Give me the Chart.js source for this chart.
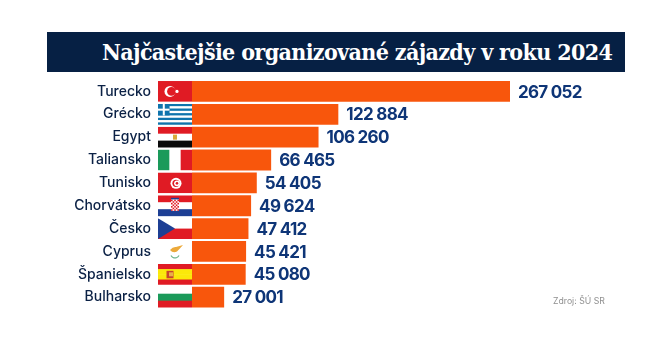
<!DOCTYPE html>
<html lang="sk">
<head>
<meta charset="utf-8">
<title>Najčastejšie organizované zájazdy v roku 2024</title>
<script src="https://cdn.jsdelivr.net/npm/chart.js@4"></script>
<style>
  html, body { margin: 0; padding: 0; background: #fff; }
  #wrap { position: relative; width: 662px; height: 358px; overflow: hidden; }
  canvas { position: absolute; left: 0; top: 0; }
  #title {
    position: absolute; left: 47px; top: 32px; width: 578px; height: 40px;
    background: #062044; color: #fff; box-sizing: border-box;
    font: bold 23px "DejaVu Serif Condensed", "DejaVu Serif", serif; line-height: 39px;
    letter-spacing: -0.64px;
    padding-left: 55px; white-space: nowrap;
  }
  #source {
    position: absolute; left: 553px; top: 296px;
    font: 8.7px Inter, sans-serif; color: #8f8f8f; white-space: nowrap;
  }
</style>
</head>
<body>
<div id="wrap">
  <canvas id="chart" width="662" height="358"></canvas>
  <div id="title">Najčastejšie organizované zájazdy v roku 2024</div>
  <div id="source">Zdroj: ŠÚ SR</div>
</div>
<script>
const categories = ['Turecko', 'Grécko', 'Egypt', 'Taliansko', 'Tunisko', 'Chorvátsko', 'Česko', 'Cyprus', 'Španielsko', 'Bulharsko'];
const trips = [267052, 122884, 106260, 66465, 54405, 49624, 47412, 45421, 45080, 27001];
const flagCodes = ['tr', 'gr', 'eg', 'it', 'tn', 'hr', 'cz', 'cy', 'es', 'bg'];

const RED = '#e01b24';
const FLAG_W = 34;

function hStripes(ctx, x, y, w, h, colors) {
  const sh = h / colors.length;
  colors.forEach((c, i) => {
    ctx.fillStyle = c;
    ctx.fillRect(x, y + i * sh, w, sh + 0.5);
  });
}

function disc(ctx, cx, cy, r, color) {
  ctx.fillStyle = color;
  ctx.beginPath();
  ctx.arc(cx, cy, r, 0, Math.PI * 2);
  ctx.fill();
}

const flags = {
  tr(ctx, x, y, w, h) {
    ctx.fillStyle = RED;
    ctx.fillRect(x, y, w, h);
    const cy = y + h / 2;
    disc(ctx, x + 12, cy, 5.5, '#fff');
    disc(ctx, x + 13.5, cy, 4.4, RED);
    disc(ctx, x + 19, cy, 1.6, '#fff');
  },
  gr(ctx, x, y, w, h) {
    const blue = '#0f74ad';
    const colors = [];
    for (let i = 0; i < 9; i++) colors.push(i % 2 ? '#fff' : blue);
    hStripes(ctx, x, y, w, h, colors);
    const c = h * 5 / 9;
    ctx.fillStyle = blue;
    ctx.fillRect(x, y, c, c);
    ctx.fillStyle = '#fff';
    ctx.fillRect(x + c / 2 - 1, y, 2, c);
    ctx.fillRect(x, y + c / 2 - 1, c, 2);
  },
  eg(ctx, x, y, w, h) {
    hStripes(ctx, x, y, w, h, [RED, '#fff', '#0a0a0a']);
    ctx.fillStyle = '#d9a93a';
    ctx.fillRect(x + w / 2 - 2, y + h / 2 - 2.5, 4, 5);
  },
  it(ctx, x, y, w, h) {
    ctx.fillStyle = '#fff';
    ctx.fillRect(x, y, w, h);
    ctx.fillStyle = '#1b9a5a';
    ctx.fillRect(x, y, w / 3, h);
    ctx.fillStyle = RED;
    ctx.fillRect(x + w * 2 / 3, y, w / 3, h);
  },
  tn(ctx, x, y, w, h) {
    ctx.fillStyle = RED;
    ctx.fillRect(x, y, w, h);
    const cx = x + w / 2 + 1, cy = y + h / 2 + 0.5;
    disc(ctx, cx, cy, 5.5, '#fff');
    disc(ctx, cx, cy, 3.6, RED);
    disc(ctx, cx + 1, cy, 2.9, '#fff');
    disc(ctx, cx + 1, cy, 1.3, RED);
  },
  hr(ctx, x, y, w, h) {
    hStripes(ctx, x, y, w, h, [RED, '#fff', '#1d3f94']);
    const sx = x + w / 2 - 4, sy = y + 3.5, cell = 1.6;
    ctx.fillStyle = '#fff';
    ctx.fillRect(sx, sy, 8, 12);
    ctx.fillStyle = RED;
    for (let r = 0; r < 7; r++) {
      for (let c = 0; c < 5; c++) {
        if ((r + c) % 2 === 0) ctx.fillRect(sx + c * cell, sy + r * cell + 0.8, cell, cell);
      }
    }
    ctx.fillStyle = '#1d3f94';
    ctx.fillRect(sx, sy - 1, 8, 1.6);
  },
  cz(ctx, x, y, w, h) {
    hStripes(ctx, x, y, w, h, ['#fff', RED]);
    ctx.fillStyle = '#1d3f94';
    ctx.beginPath();
    ctx.moveTo(x, y);
    ctx.lineTo(x + w / 2, y + h / 2);
    ctx.lineTo(x, y + h);
    ctx.closePath();
    ctx.fill();
  },
  cy(ctx, x, y, w, h) {
    ctx.fillStyle = '#fff';
    ctx.fillRect(x, y, w, h);
    const cx = x + w / 2 + 1, cy = y + h / 2 - 2.5;
    ctx.fillStyle = '#eca93a';
    ctx.beginPath();
    ctx.moveTo(cx - 6, cy + 1);
    ctx.quadraticCurveTo(cx - 3, cy - 2.5, cx, cy - 2);
    ctx.lineTo(cx + 7, cy - 4);
    ctx.quadraticCurveTo(cx + 4, cy - 0.5, cx + 1, cy + 2.5);
    ctx.quadraticCurveTo(cx - 3, cy + 4.5, cx - 6, cy + 1);
    ctx.fill();
    ctx.strokeStyle = '#6fb58a';
    ctx.lineWidth = 1.2;
    ctx.beginPath();
    ctx.arc(cx - 1, cy + 4.5, 4.5, Math.PI * 0.15, Math.PI * 0.85);
    ctx.stroke();
  },
  es(ctx, x, y, w, h) {
    hStripes(ctx, x, y, w, h, [RED, '#fbe80a', '#fbe80a', RED]);
    const cx = x + 12, cy = y + h / 2;
    ctx.fillStyle = '#c9432c';
    ctx.fillRect(cx - 3.5, cy - 3.5, 7, 7.5);
    ctx.fillStyle = '#e8b04a';
    ctx.fillRect(cx - 1, cy - 2, 4, 4);
  },
  bg(ctx, x, y, w, h) {
    hStripes(ctx, x, y, w, h, ['#fff', '#1b9a5a', RED]);
  }
};

const flagPlugin = {
  id: 'flagPlugin',
  afterDatasetsDraw(chart) {
    const ctx = chart.ctx;
    const left = chart.chartArea.left - FLAG_W;
    chart.getDatasetMeta(0).data.forEach((bar, i) => {
      const top = bar.y - bar.height / 2;
      ctx.save();
      ctx.beginPath();
      ctx.rect(left, top, FLAG_W, bar.height);
      ctx.clip();
      flags[flagCodes[i]](ctx, left, top, FLAG_W, bar.height);
      ctx.restore();
    });
  }
};

const valueLabelPlugin = {
  id: 'valueLabelPlugin',
  afterDatasetsDraw(chart) {
    const ctx = chart.ctx;
    ctx.save();
    ctx.font = '700 17px Inter, sans-serif';
    ctx.letterSpacing = '-0.7px';
    ctx.fillStyle = '#0e3577';
    ctx.textAlign = 'left';
    ctx.textBaseline = 'middle';
    chart.getDatasetMeta(0).data.forEach((bar, i) => {
      const text = String(trips[i]).replace(/\B(?=(\d{3})+$)/g, ' ');
      ctx.fillText(text, bar.x + 8, bar.y + 1);
    });
    ctx.restore();
  }
};

new Chart(document.getElementById('chart'), {
  type: 'bar',
  data: {
    labels: categories,
    datasets: [{
      data: trips,
      backgroundColor: '#f8560c',
      barPercentage: 0.91,
      categoryPercentage: 1
    }]
  },
  options: {
    indexAxis: 'y',
    responsive: false,
    animation: false,
    layout: { padding: { top: 80, bottom: 43.8, right: 152, left: 0 } },
    plugins: { legend: { display: false }, tooltip: { enabled: false } },
    scales: {
      x: { display: false, min: 0, max: 267052 },
      y: {
        grid: { display: false, drawTicks: false },
        border: { display: false },
        afterFit(scale) { scale.width = 192; },
        ticks: {
          padding: 41,
          color: '#0b2145',
          font: { family: 'Inter, sans-serif', size: 14, weight: '500' }
        }
      }
    }
  },
  plugins: [flagPlugin, valueLabelPlugin]
});
</script>
</body>
</html>
